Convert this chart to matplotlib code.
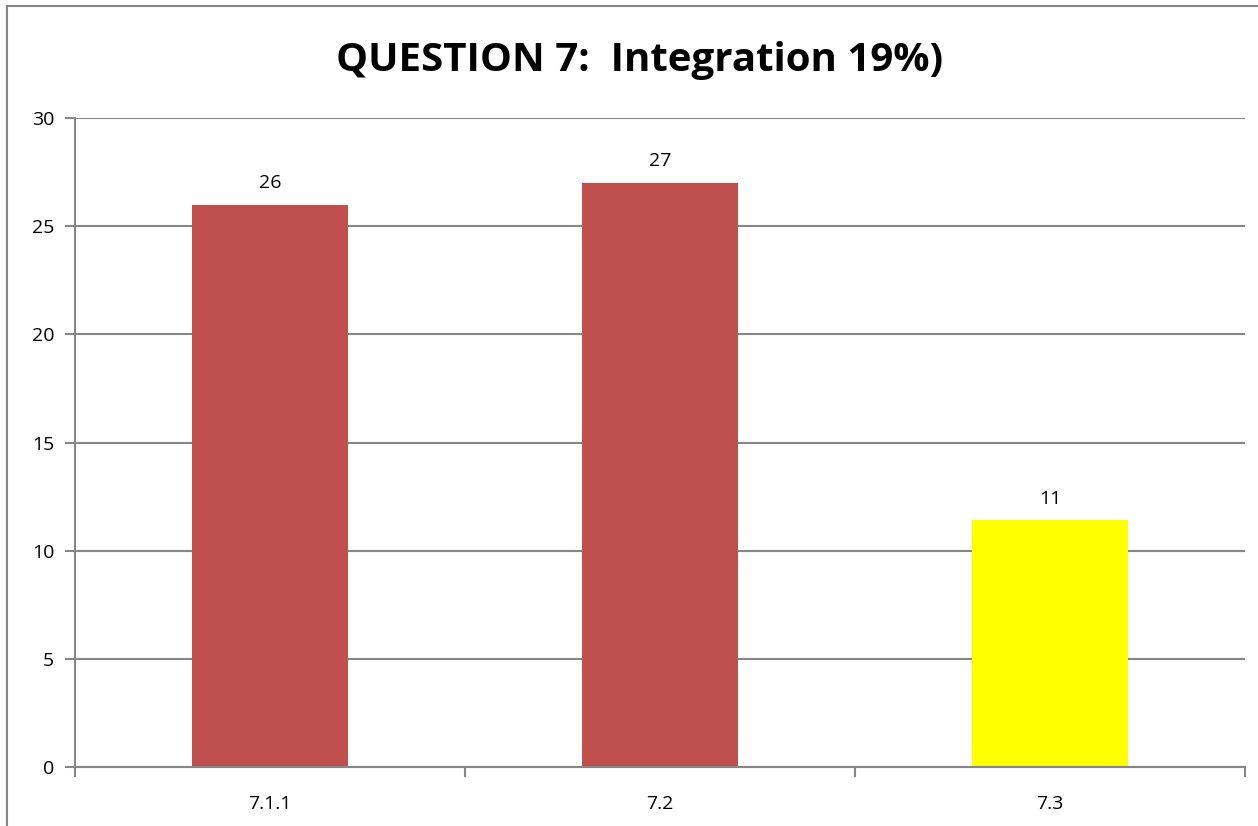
import numpy as np
import matplotlib.pyplot as plt
from matplotlib.patches import Rectangle

categories = ['7.1.1', '7.2', '7.3']
values = [26, 27, 11.4]
value_labels = ['26', '27', '11']
colors = ['#C0504D', '#C0504D', '#FFFF00']

TITLE = 'QUESTION 7:  Integration 19%)'
GRID = '#868686'

plt.rcParams['font.family'] = ['Open Sans', 'DejaVu Sans']

fig = plt.figure(figsize=(12.58, 8.26), dpi=100)
# outer chart border (cut off on right and bottom like the reference)
fig.patches.append(Rectangle((7/1258, -0.1), 1.2, (826 - 6)/826 + 0.1,
                             transform=fig.transFigure, fill=False,
                             edgecolor=GRID, linewidth=1.5))

ax = fig.add_axes([75/1258, 59/826, 1170/1258, 649/826])
x = np.arange(len(categories))
ax.bar(x, values, width=0.4, color=colors, zorder=2)

for xi, v, lab in zip(x, values, value_labels):
    ax.annotate(lab, (xi, v), xytext=(0, 9), textcoords='offset points',
                ha='center', va='bottom', fontsize=14)

ax.set_xlim(-0.5, 2.5)
ax.set_ylim(0, 30)
ax.set_yticks(range(0, 31, 5))
ax.yaxis.grid(True, color=GRID, linewidth=1.5, zorder=0)
ax.set_axisbelow(True)

ax.set_xticks([-0.5, 0.5, 1.5, 2.5])
ax.set_xticklabels([])
ax.set_xticks(x, minor=True)
ax.set_xticklabels(categories, minor=True)
ax.tick_params(axis='x', which='minor', length=0, pad=20, labelsize=14)
ax.tick_params(axis='x', which='major', length=7, color=GRID, width=1.5)
ax.tick_params(axis='y', length=7, color=GRID, width=1.5, labelsize=14, pad=8)

for side in ['top', 'right']:
    ax.spines[side].set_visible(False)
for side in ['left', 'bottom']:
    ax.spines[side].set_color(GRID)
    ax.spines[side].set_linewidth(1.5)

fig.text(640/1258, 1 - 60/826, TITLE, ha='center', va='center',
         fontsize=29, fontweight='bold')

fig.savefig('out.png', dpi=100)
